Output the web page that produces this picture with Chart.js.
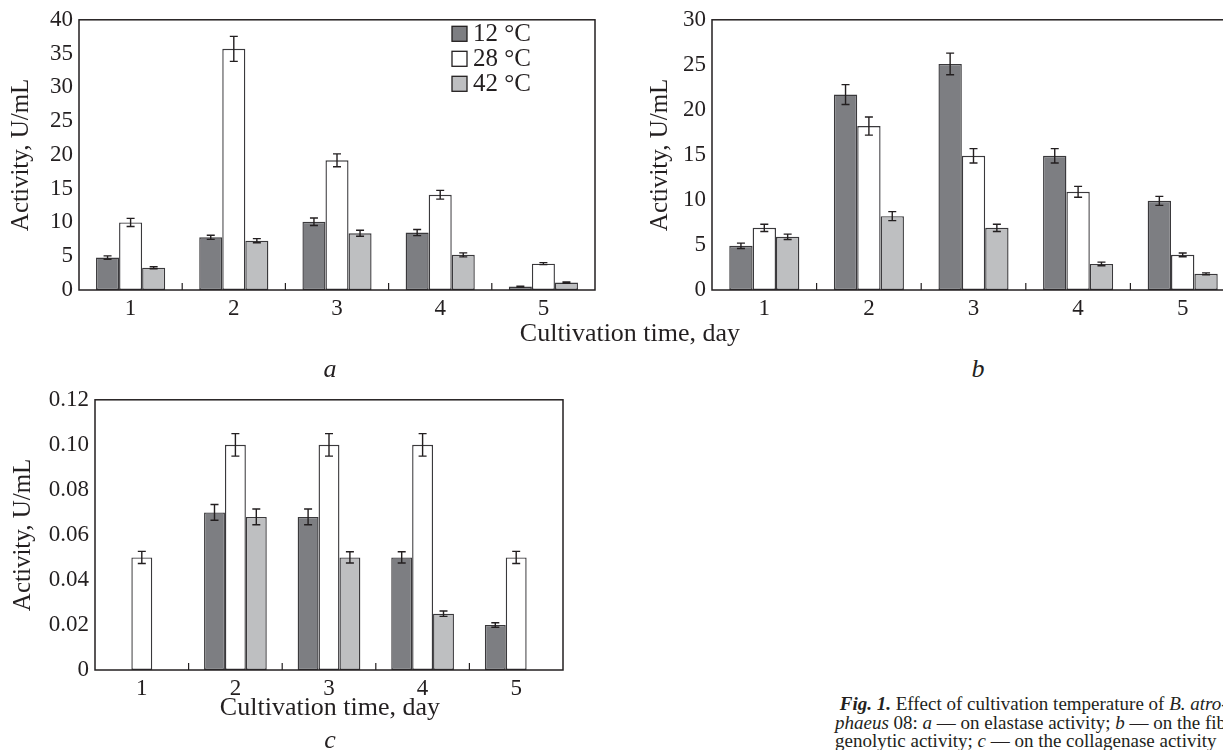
<!DOCTYPE html>
<html>
<head>
    <title>Fig. 1</title>
    <script src="https://cdn.jsdelivr.net/npm/chart.js"></script>
    <style>
        body {
            margin: 0;
            width: 1223px;
            height: 750px;
            overflow: hidden;
            position: relative;
            background: #fff;
            font-family: 'Liberation Serif', 'DejaVu Serif', serif;
            color: #231f20;
        }

        .panel {
            position: absolute;
        }

        .label {
            position: absolute;
            white-space: nowrap;
            transform: translate(-50%, -50%);
            font-size: 26px;
        }

        .caption {
            position: absolute;
            left: 835px;
            top: 695px;
            font-size: 19px;
            line-height: 18.5px;
            white-space: nowrap;
        }
    </style>
</head>
<body>
    <div class="panel" style="left:0; top:0; width:620px; height:320px;"><canvas id="chartA"></canvas></div>
    <div class="panel" style="left:620px; top:0; width:620px; height:320px;"><canvas id="chartB"></canvas></div>
    <div class="panel" style="left:0; top:380px; width:620px; height:320px;"><canvas id="chartC"></canvas></div>

    <div class="label" style="left:630px; top:333px;">Cultivation time, day</div>
    <div class="label" style="left:330px; top:369px;"><i>a</i></div>
    <div class="label" style="left:978px; top:369px;"><i>b</i></div>
    <div class="label" style="left:330px; top:707px;">Cultivation time, day</div>
    <div class="label" style="left:330px; top:740px;"><i>c</i></div>

    <div class="caption">
        &nbsp;<b><i>Fig. 1.</i></b> Effect of cultivation temperature of <i>B. atro-</i><br>
        <i>phaeus</i> 08: <i>a</i> — on elastase activity; <i>b</i> — on the fibrino-<br>
        genolytic activity; <i>c</i> — on the collagenase activity
    </div>

    <script>
        // categories and series
        const days = ['1', '2', '3', '4', '5'];
        const temps = ['12 °C', '28 °C', '42 °C'];

        // a: elastase activity, U/mL
        const elastase12 = [4.8, 7.8, 10.1, 8.5, 0.5];
        const elastase28 = [10.0, 35.7, 19.2, 14.1, 3.9];
        const elastase42 = [3.3, 7.3, 8.4, 5.2, 1.1];
        const elastaseErr12 = [0.25, 0.3, 0.55, 0.45, 0.05];
        const elastaseErr28 = [0.6, 1.85, 0.95, 0.65, 0.15];
        const elastaseErr42 = [0.15, 0.3, 0.45, 0.3, 0.1];
        const ticksA = [0, 5, 10, 15, 20, 25, 30, 35, 40];

        // b: fibrinogenolytic activity, U/mL
        const fibrino12 = [4.9, 21.7, 25.1, 14.9, 9.9];
        const fibrino28 = [6.9, 18.2, 14.9, 10.9, 3.9];
        const fibrino42 = [5.9, 8.2, 6.9, 2.9, 1.8];
        const fibrinoErr12 = [0.3, 1.1, 1.2, 0.8, 0.5];
        const fibrinoErr28 = [0.4, 1.0, 0.8, 0.6, 0.2];
        const fibrinoErr42 = [0.3, 0.5, 0.4, 0.2, 0.1];
        const ticksB = [0, 5, 10, 15, 20, 25, 30];

        // c: collagenase activity, U/mL
        const collagen12 = [null, 0.070, 0.068, 0.050, 0.020];
        const collagen28 = [0.050, 0.100, 0.100, 0.100, 0.050];
        const collagen42 = [null, 0.068, 0.050, 0.025, null];
        const collagenErr12 = [null, 0.0035, 0.0035, 0.0025, 0.001];
        const collagenErr28 = [0.0027, 0.005, 0.005, 0.005, 0.0027];
        const collagenErr42 = [null, 0.0035, 0.0025, 0.0012, null];
        const ticksC = [0, 0.02, 0.04, 0.06, 0.08, 0.10, 0.12];

        const FONT = "'Liberation Serif', 'DejaVu Serif', serif";
        const INK = '#231f20';
        const fills = ['#7d7e82', '#ffffff', '#bebfc1'];

        // frame around the plot area plus small category separators on the x axis
        const framePlugin = {
            id: 'frame',
            afterDatasetsDraw(chart) {
                const { ctx, chartArea: a } = chart;
                const x = chart.scales.x;
                ctx.save();
                ctx.strokeStyle = INK;
                ctx.lineWidth = 1.5;
                ctx.strokeRect(a.left, a.top, a.right - a.left, a.bottom - a.top);
                ctx.lineWidth = 1.2;
                for (let i = 1; i < days.length; i++) {
                    const px = (x.getPixelForValue(i - 1) + x.getPixelForValue(i)) / 2;
                    ctx.beginPath();
                    ctx.moveTo(px, a.bottom);
                    ctx.lineTo(px, a.bottom - 7);
                    ctx.stroke();
                }
                ctx.restore();
            }
        };

        const errorBarPlugin = {
            id: 'errorBars',
            afterDatasetsDraw(chart) {
                const { ctx } = chart;
                const y = chart.scales.y;
                ctx.save();
                ctx.strokeStyle = INK;
                ctx.lineWidth = 1.4;
                chart.data.datasets.forEach((ds, i) => {
                    const meta = chart.getDatasetMeta(i);
                    meta.data.forEach((bar, j) => {
                        const v = ds.data[j];
                        const e = ds.errors[j];
                        if (v == null || e == null) return;
                        const top = y.getPixelForValue(v + e);
                        const bot = y.getPixelForValue(v - e);
                        ctx.beginPath();
                        ctx.moveTo(bar.x, top);
                        ctx.lineTo(bar.x, bot);
                        ctx.moveTo(bar.x - 4, top);
                        ctx.lineTo(bar.x + 4, top);
                        ctx.moveTo(bar.x - 4, bot);
                        ctx.lineTo(bar.x + 4, bot);
                        ctx.stroke();
                    });
                });
                ctx.restore();
            }
        };

        // legend inside the plot area (panel a only)
        const boxLegendPlugin = {
            id: 'boxLegend',
            afterDraw(chart, args, opts) {
                if (!opts.show) return;
                const { ctx, chartArea: a } = chart;
                const s = opts.box;
                ctx.save();
                ctx.font = '25px ' + FONT;
                ctx.textBaseline = 'middle';
                chart.data.datasets.forEach((ds, i) => {
                    const bx = a.right - opts.fromRight;
                    const cy = a.top + opts.firstRow + i * opts.rowGap;
                    ctx.fillStyle = ds.backgroundColor;
                    ctx.fillRect(bx, cy - s / 2, s, s);
                    ctx.strokeStyle = INK;
                    ctx.lineWidth = 1.3;
                    ctx.strokeRect(bx, cy - s / 2, s, s);
                    ctx.fillStyle = INK;
                    ctx.fillText(ds.label, bx + s + 6, cy + 1);
                });
                ctx.restore();
            }
        };

        function makeChart(id, series, errors, ticks, fmt, layout) {
            const datasets = series.map((data, i) => ({
                label: temps[i],
                data: data,
                errors: errors[i],
                backgroundColor: fills[i],
                borderColor: '#3a393c',
                borderWidth: 1.4,
                borderSkipped: false,
                barPercentage: 1.0,
                categoryPercentage: 0.67
            }));

            new Chart(document.getElementById(id), {
                type: 'bar',
                data: { labels: days, datasets: datasets },
                options: {
                    responsive: true,
                    maintainAspectRatio: false,
                    animation: false,
                    layout: { padding: { left: 0, top: 13, right: layout.right, bottom: 0 } },
                    plugins: {
                        legend: { display: false },
                        tooltip: { enabled: false },
                        boxLegend: layout.legend || { show: false }
                    },
                    scales: {
                        x: {
                            grid: { display: false, drawTicks: false },
                            border: { display: false },
                            ticks: { color: INK, font: { family: FONT, size: 23 }, padding: 5 },
                            afterFit: s => { s.height = 30; }
                        },
                        y: {
                            min: 0,
                            max: ticks[ticks.length - 1],
                            grid: { display: false, drawTicks: false },
                            border: { display: false },
                            afterBuildTicks: s => { s.ticks = ticks.map(v => ({ value: v })); },
                            ticks: {
                                color: INK,
                                font: { family: FONT, size: 23 },
                                padding: 6,
                                callback: fmt
                            },
                            title: {
                                display: true,
                                text: 'Activity, U/mL',
                                color: INK,
                                font: { family: FONT, size: 25 },
                                padding: { top: layout.titlePad, bottom: 0 }
                            },
                            afterFit: s => { s.width = layout.axisWidth; }
                        }
                    }
                },
                plugins: [errorBarPlugin, framePlugin, boxLegendPlugin]
            });
        }

        makeChart('chartA',
            [elastase12, elastase28, elastase42],
            [elastaseErr12, elastaseErr28, elastaseErr42],
            ticksA, v => String(v),
            { right: 25, axisWidth: 79, titlePad: 6,
              legend: { show: true, fromRight: 143, firstRow: 14, rowGap: 25, box: 15 } });

        makeChart('chartB',
            [fibrino12, fibrino28, fibrino42],
            [fibrinoErr12, fibrinoErr28, fibrinoErr42],
            ticksB, v => String(v),
            { right: 5, axisWidth: 92, titlePad: 25 });

        makeChart('chartC',
            [collagen12, collagen28, collagen42],
            [collagenErr12, collagenErr28, collagenErr42],
            ticksC, v => (v === 0 ? '0' : v.toFixed(2)),
            { right: 57, axisWidth: 95, titlePad: 8 });
    </script>
</body>
</html>
